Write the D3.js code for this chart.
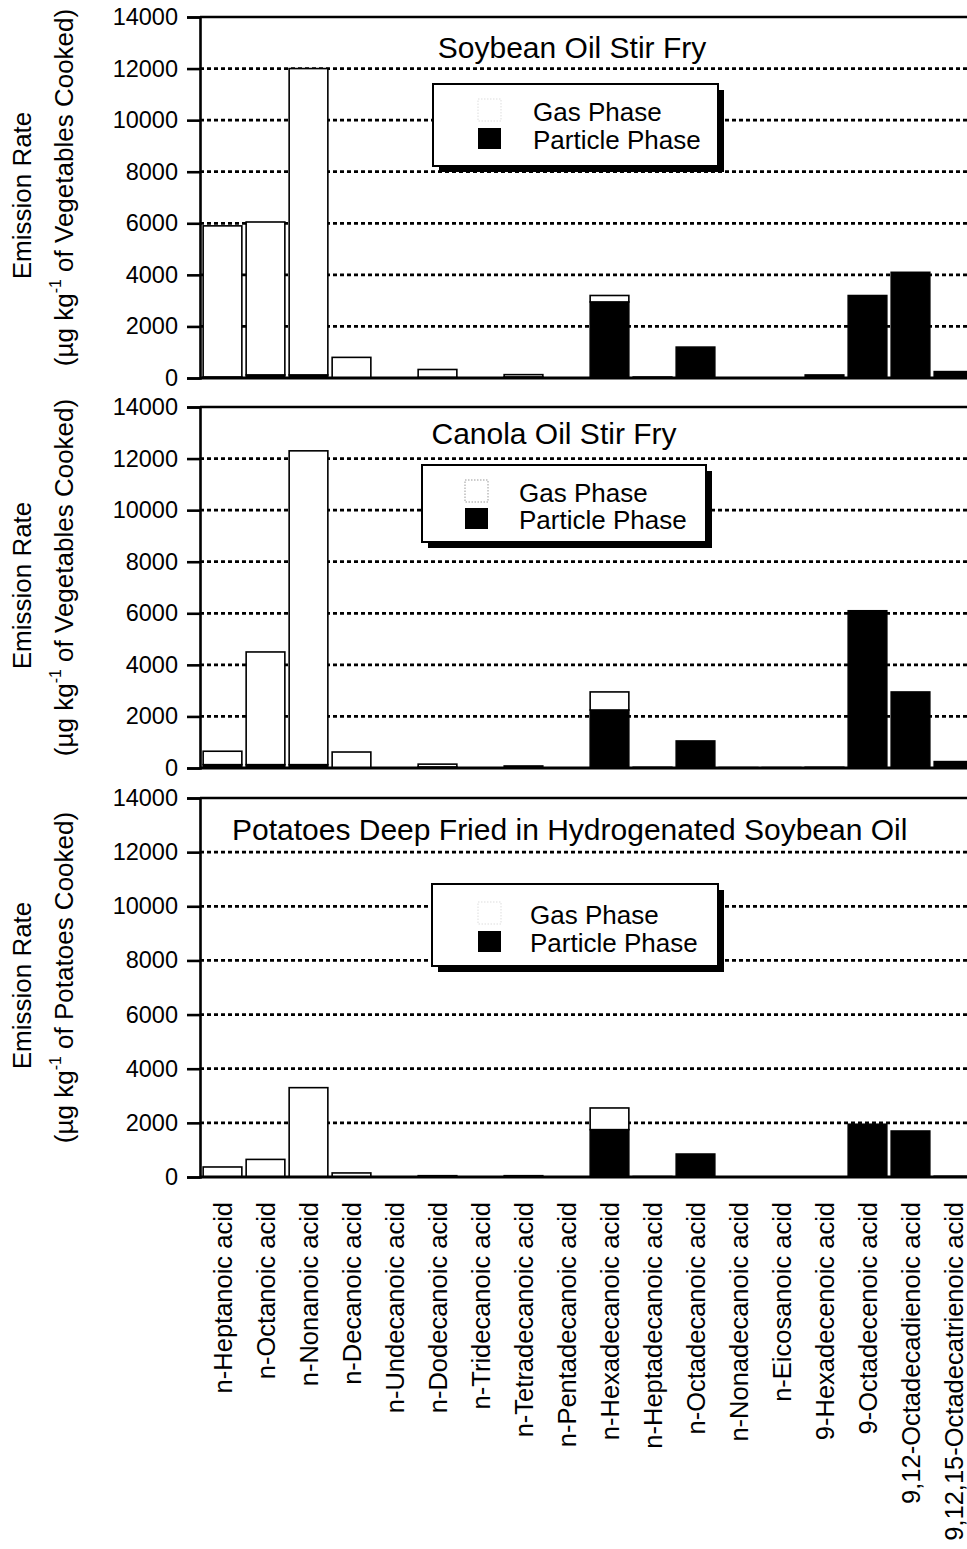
<!DOCTYPE html>
<html>
<head>
<meta charset="utf-8">
<script src="https://cdn.jsdelivr.net/npm/d3@7"></script>
<style>
  body { margin: 0; background: #fff; }
  svg { display: block; }
  text { font-family: "Liberation Sans", Arial, Helvetica, sans-serif; fill: #000; }
</style>
</head>
<body>
<svg id="chart" width="967" height="1549"></svg>
<script>
// Fatty acid categories (x axis)
const categories = [
  "n-Heptanoic acid", "n-Octanoic acid", "n-Nonanoic acid", "n-Decanoic acid",
  "n-Undecanoic acid", "n-Dodecanoic acid", "n-Tridecanoic acid", "n-Tetradecanoic acid",
  "n-Pentadecanoic acid", "n-Hexadecanoic acid", "n-Heptadecanoic acid", "n-Octadecanoic acid",
  "n-Nonadecanoic acid", "n-Eicosanoic acid", "9-Hexadecenoic acid", "9-Octadecenoic acid",
  "9,12-Octadecadienoic acid", "9,12,15-Octadecatrienoic acid"
];

// Y tick values (µg per kg cooked)
const yTicks = [0, 2000, 4000, 6000, 8000, 10000, 12000, 14000];

// Soybean oil stir fry
const soyParticle = [40, 120, 120, 0, 0, 20, 0, 40, 0, 2950, 40, 1200, 0, 0, 120, 3200, 4100, 250];
const soyGas      = [5860, 5930, 11880, 800, 0, 310, 0, 90, 0, 250, 0, 0, 0, 0, 0, 0, 0, 0];

// Canola oil stir fry
const canolaParticle = [130, 130, 130, 0, 0, 40, 0, 80, 0, 2250, 30, 1050, 20, 20, 30, 6100, 2950, 250];
const canolaGas      = [520, 4370, 12170, 620, 0, 110, 0, 0, 0, 700, 0, 0, 0, 0, 0, 0, 0, 0];

// Potatoes deep fried in hydrogenated soybean oil
const potatoParticle = [0, 0, 0, 0, 0, 50, 0, 50, 0, 1750, 20, 850, 0, 0, 0, 1950, 1700, 30];
const potatoGas      = [370, 650, 3300, 150, 0, 0, 0, 0, 0, 800, 0, 0, 0, 0, 0, 0, 0, 0];

const legendLabels = ["Gas Phase", "Particle Phase"];

const panels = [
  { title: "Soybean Oil Stir Fry", particle: soyParticle, gas: soyGas, cooked: "Vegetables",
    top: 17, bottom: 378, titleX: 572, titleY: 58, anchor: "middle",
    legend: { x: 433, y: 84, w: 285, h: 82, sw: 478, textX: 533, r1: 121, r2: 149 }, faintGas: true },
  { title: "Canola Oil Stir Fry", particle: canolaParticle, gas: canolaGas, cooked: "Vegetables",
    top: 407, bottom: 768, titleX: 554, titleY: 444, anchor: "middle",
    legend: { x: 422, y: 465, w: 284, h: 77, sw: 465, textX: 519, r1: 502, r2: 529 }, faintGas: false },
  { title: "Potatoes Deep Fried in Hydrogenated Soybean Oil", particle: potatoParticle, gas: potatoGas, cooked: "Potatoes",
    top: 798, bottom: 1177, titleX: 232, titleY: 840, anchor: "start",
    legend: { x: 432, y: 884, w: 286, h: 82, sw: 478, textX: 530, r1: 924, r2: 952 }, faintGas: true }
];

const svg = d3.select("#chart");
const axisX = 200;
const rightEdge = 967;

const x = d3.scaleBand()
  .domain(categories)
  .range([201, 975])
  .paddingInner(0.1)
  .paddingOuter(0.05);

panels.forEach(p => {
  const y = d3.scaleLinear().domain([0, 14000]).range([p.bottom, p.top]);
  const g = svg.append("g");

  // dotted grid lines
  g.selectAll("line.grid")
    .data(yTicks.filter(t => t > 0 && t < 14000))
    .join("line")
    .attr("x1", axisX).attr("x2", rightEdge)
    .attr("y1", d => y(d)).attr("y2", d => y(d))
    .attr("stroke", "#000").attr("stroke-width", 2.8)
    .attr("stroke-dasharray", "4,3");

  // solid top frame line
  g.append("line")
    .attr("x1", axisX).attr("x2", rightEdge)
    .attr("y1", y(14000)).attr("y2", y(14000))
    .attr("stroke", "#000").attr("stroke-width", 2.5);

  // stacked bars: particle at bottom, gas on top
  const rows = categories.map((c, i) => ({ c, p: p.particle[i], gs: p.gas[i] }));
  g.selectAll("rect.particle")
    .data(rows.filter(d => d.p > 0))
    .join("rect")
    .attr("x", d => x(d.c)).attr("width", x.bandwidth())
    .attr("y", d => y(d.p)).attr("height", d => y(0) - y(d.p))
    .attr("fill", "#000").attr("stroke", "#000").attr("stroke-width", 1.5);
  g.selectAll("rect.gas")
    .data(rows.filter(d => d.gs > 0))
    .join("rect")
    .attr("x", d => x(d.c)).attr("width", x.bandwidth())
    .attr("y", d => y(d.p + d.gs)).attr("height", d => y(d.p) - y(d.p + d.gs))
    .attr("fill", "#fff").attr("stroke", "#000").attr("stroke-width", 1.6);

  // baseline
  g.append("line")
    .attr("x1", axisX).attr("x2", rightEdge)
    .attr("y1", y(0)).attr("y2", y(0))
    .attr("stroke", "#000").attr("stroke-width", 2.8);

  // left axis
  const ax = g.append("g")
    .attr("transform", `translate(${axisX},0)`)
    .call(d3.axisLeft(y).tickValues(yTicks).tickSize(13).tickPadding(9).tickFormat(d3.format("d")));
  ax.select(".domain").attr("stroke", "#000").attr("stroke-width", 2.6);
  ax.selectAll(".tick line").attr("stroke", "#000").attr("stroke-width", 2.6);
  ax.selectAll(".tick text")
    .attr("font-size", 23.5)
    .attr("font-family", "Liberation Sans, Arial, sans-serif")
    .attr("fill", "#000");

  // panel title
  g.append("text")
    .attr("x", p.titleX).attr("y", p.titleY)
    .attr("text-anchor", p.anchor)
    .attr("font-size", 30)
    .text(p.title);

  // legend with drop shadow
  const L = p.legend;
  const lg = g.append("g");
  lg.append("rect")
    .attr("x", L.x + 6).attr("y", L.y + 6).attr("width", L.w).attr("height", L.h)
    .attr("fill", "#000");
  lg.append("rect")
    .attr("x", L.x).attr("y", L.y).attr("width", L.w).attr("height", L.h)
    .attr("fill", "#fff").attr("stroke", "#000").attr("stroke-width", 2);
  lg.append("rect")
    .attr("x", L.sw).attr("y", L.r1 - 22).attr("width", 23).attr("height", 22)
    .attr("fill", "#fff").attr("stroke", p.faintGas ? "#ddd" : "#999")
    .attr("stroke-width", 1).attr("stroke-dasharray", "1.5,1.5");
  lg.append("rect")
    .attr("x", L.sw).attr("y", L.r2 - 21).attr("width", 23).attr("height", 21)
    .attr("fill", "#000");
  lg.selectAll("text.lab")
    .data(legendLabels)
    .join("text")
    .attr("x", L.textX)
    .attr("y", (d, i) => i === 0 ? L.r1 : L.r2)
    .attr("font-size", 26)
    .text(d => d);

  // y axis titles
  const cy = (p.top + p.bottom) / 2;
  g.append("text")
    .attr("transform", `translate(31,${cy - 2}) rotate(-90)`)
    .attr("text-anchor", "middle")
    .attr("font-size", 26)
    .text("Emission Rate");
  const t2 = g.append("text")
    .attr("transform", `translate(73,${cy - 10}) rotate(-90)`)
    .attr("text-anchor", "middle")
    .attr("font-size", 26);
  t2.append("tspan").text("(µg kg");
  t2.append("tspan").attr("font-size", 16).attr("dy", -12).text("-1");
  t2.append("tspan").attr("dy", 12).text(` of ${p.cooked} Cooked)`);
});

// category labels under the bottom panel
svg.append("g")
  .selectAll("text")
  .data(categories)
  .join("text")
  .attr("transform", d => `translate(${x(d) + x.bandwidth() / 2},1202) rotate(-90)`)
  .attr("text-anchor", "end")
  .attr("dy", "0.36em")
  .attr("font-size", 25.5)
  .text(d => d);
</script>
</body>
</html>
